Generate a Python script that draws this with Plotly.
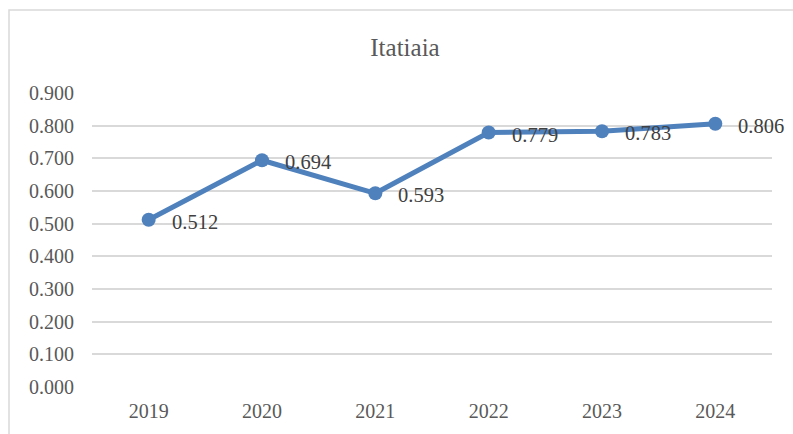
import plotly.graph_objects as go

years = ["2019", "2020", "2021", "2022", "2023", "2024"]
values = [0.512, 0.694, 0.593, 0.779, 0.783, 0.806]
labels = ["0.512", "0.694", "0.593", "0.779", "0.783", "0.806"]
title = "Itatiaia"

W, H = 793, 434
L, R, T, B = 92, 21, 93, 47
FONT = "Liberation Serif, Times New Roman, serif"
GRAY = "#595959"
GRID = "#d9d9d9"
BLUE = "#4F81BD"

fig = go.Figure()
fig.add_trace(go.Scatter(
    x=years, y=values, mode="lines+markers",
    line=dict(color=BLUE, width=5),
    marker=dict(color=BLUE, size=14),
    cliponaxis=False, showlegend=False, hoverinfo="skip",
))

for i, (y, t) in enumerate(zip(values, labels)):
    fig.add_annotation(x=i, y=y, text=t, showarrow=False, xanchor="left",
                       yanchor="middle", xshift=21, yshift=-2,
                       font=dict(family=FONT, size=20.5, color="#404040"))

pw = W - L - R
ph = H - T - B
fig.add_shape(type="rect", xref="paper", yref="paper",
              x0=(9 - L) / pw, x1=1.2, y0=-0.5, y1=(H - B - 10) / ph,
              line=dict(color=GRID, width=1.5), fillcolor="rgba(0,0,0,0)", layer="below")

fig.update_layout(
    width=W, height=H,
    margin=dict(l=L, r=R, t=T, b=B, pad=0),
    paper_bgcolor="white", plot_bgcolor="white",
    title=dict(text=title, x=405 / W, xref="container", xanchor="center",
               y=1 - 47 / H, yanchor="middle", yref="container",
               font=dict(family=FONT, size=25, color=GRAY)),
    font=dict(family=FONT, size=20, color=GRAY),
    xaxis=dict(type="category", categoryorder="array", categoryarray=years,
               range=[-0.5, len(years) - 0.5], autorange=False,
               showgrid=False, zeroline=False, showline=False,
               ticks="", tickfont=dict(family=FONT, size=20, color=GRAY),
               ticklabelstandoff=10),
    yaxis=dict(range=[0, 0.9], autorange=False, dtick=0.1, tick0=0, tickformat=".3f",
               showgrid=True, gridcolor=GRID, gridwidth=1.5, zeroline=False,
               showline=False, ticks="", ticklabelstandoff=17,
               tickfont=dict(family=FONT, size=20, color=GRAY)),
)

fig.write_html("out.html", config={"displayModeBar": False},
               post_script="document.body.style.margin='0';document.body.style.overflow='hidden';")
